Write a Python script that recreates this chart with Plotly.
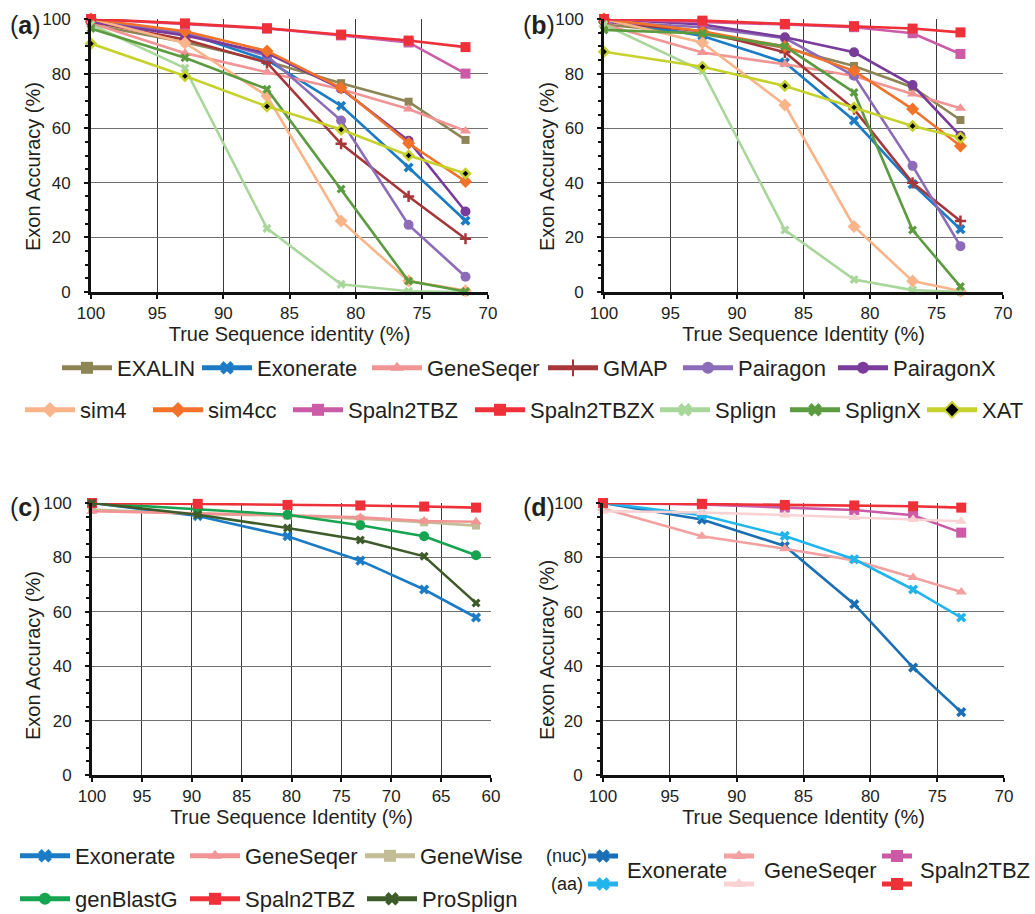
import plotly.graph_objects as go

W, H = 1035, 914
FONT = "Liberation Sans, Arial, Helvetica, sans-serif"
TXT = "#231F20"

# ---------------- data ----------------
x_a = [100, 92.9, 86.7, 81.1, 76.0, 71.7]
x_b = [100, 92.6, 86.4, 81.2, 76.8, 73.2]
x_c = [100, 89.4, 80.4, 73.1, 66.7, 61.5]
x_d = [100, 92.6, 86.4, 81.2, 76.8, 73.2]

names_ab = ["EXALIN", "Exonerate", "GeneSeqer", "GMAP", "Pairagon", "PairagonX",
            "sim4", "sim4cc", "Spaln2TBZ", "Spaln2TBZX", "Splign", "SplignX", "XAT"]

a_EXALIN = [98, 91.5, 84.5, 76.5, 69.7, 55.7]
a_Exonerate = [99.5, 95, 85, 68.2, 45.6, 26.1]
a_GeneSeqer = [98.5, 87.5, 80.5, 74.3, 67, 59]
a_GMAP = [99, 92.5, 84, 54.3, 35, 19.5]
a_Pairagon = [99, 95, 86.5, 62.8, 24.6, 5.6]
a_PairagonX = [99, 94, 87.5, 74.5, 55.4, 29.5]
a_sim4 = [100, 91.2, 71.8, 26, 4, 0.5]
a_sim4cc = [100, 95.5, 88.3, 74.8, 54.5, 40.5]
a_Spaln2TBZ = [100, 98, 96.5, 94, 91.4, 80]
a_Spaln2TBZX = [100, 98.4, 96.6, 94.3, 92.1, 89.7]
a_Splign = [98, 82, 23.3, 2.8, 0.3, 0]
a_SplignX = [96.5, 85.8, 74.3, 37.7, 4, 0.2]
a_XAT = [91, 79.1, 68, 59.5, 50, 43.4]

b_EXALIN = [98, 94.5, 89.5, 82.8, 75, 63]
b_Exonerate = [100, 93.8, 84.1, 62.8, 39.5, 23]
b_GeneSeqer = [98, 87.7, 83.4, 79.1, 72.5, 67.3]
b_GMAP = [99, 95.5, 87.8, 67, 40, 26]
b_Pairagon = [99, 97, 93, 79.2, 46.2, 16.8]
b_PairagonX = [100, 98, 93.3, 87.8, 75.8, 57.2]
b_sim4 = [100, 91.3, 68.5, 24, 4, 0.4]
b_sim4cc = [100, 95.5, 89.9, 81, 67, 53.5]
b_Spaln2TBZ = [100, 99, 98, 97, 94.8, 87.2]
b_Spaln2TBZX = [100, 99.4, 98.2, 97.4, 96.5, 95.1]
b_Splign = [98, 81, 22.7, 4.6, 0.7, 0]
b_SplignX = [96, 94.7, 90, 73.1, 22.7, 2]
b_XAT = [88, 82.5, 75.5, 67.6, 60.8, 56.5]

names_c = ["Exonerate", "GeneSeqer", "GeneWise", "genBlastG", "Spaln2TBZ", "ProSplign"]
c_Exonerate = [100, 95.2, 87.8, 78.8, 68.2, 57.9]
c_GeneSeqer = [97, 96.3, 95.5, 94.7, 93.4, 93.1]
c_GeneWise = [97.6, 96.0, 95.3, 94.2, 92.9, 91.7]
c_genBlastG = [100, 97.7, 95.7, 91.8, 87.8, 80.8]
c_Spaln2TBZ = [100, 99.7, 99.3, 99.1, 98.7, 98.3]
c_ProSplign = [100, 95.7, 90.8, 86.4, 80.4, 63.2]

names_d = ["Exonerate", "GeneSeqer", "Spaln2TBZ"]
d_Exonerate_nuc = [100, 93.9, 84.2, 62.8, 39.5, 23.1]
d_GeneSeqer_nuc = [98, 87.8, 83.2, 78.9, 72.6, 67.3]
d_Spaln2TBZ_nuc = [100, 99.5, 98.3, 97.4, 95.5, 89.1]
d_Exonerate_aa = [100, 95.5, 87.9, 79.3, 68.2, 57.9]
d_GeneSeqer_aa = [97, 96.5, 95.6, 94.7, 93.9, 93.3]
d_Spaln2TBZ_aa = [100, 99.7, 99.3, 99.1, 98.8, 98.3]

xticks_ab = [100, 95, 90, 85, 80, 75, 70]
xticks_c = [100, 95, 90, 85, 80, 75, 70, 65, 60]
yticks = [0, 20, 40, 60, 80, 100]

# ---------------- styles ----------------
style = {
    "EXALIN": ("#8E8556", "square", 8),
    "Exonerate": ("#1B7BC4", "x", 9),
    "GeneSeqer": ("#F29494", "triangle-up", 10),
    "GMAP": ("#A5373A", "cross-thin-open", 8),
    "Pairagon": ("#8C6BB8", "circle", 10),
    "PairagonX": ("#7A3C9A", "circle", 10),
    "sim4": ("#F9B48A", "diamond", 10),
    "sim4cc": ("#F2722A", "diamond", 10),
    "Spaln2TBZ": ("#CB5BA6", "square", 10),
    "Spaln2TBZX": ("#EE3139", "square", 10),
    "Splign": ("#A9D69A", "x", 8),
    "SplignX": ("#5C9B40", "x", 8),
    "XAT": ("#C6D12B", "diamond", 7),
    "GeneWise": ("#C2BD96", "square", 8),
    "genBlastG": ("#17A450", "circle", 10),
    "ProSplign": ("#3E5C2A", "x", 8),
}
d_colors_nuc = {"Exonerate": "#1A6FB5", "GeneSeqer": "#F2A0A0", "Spaln2TBZ": "#CB5BA6"}
d_colors_aa = {"Exonerate": "#22B5EC", "GeneSeqer": "#F9D3D3", "Spaln2TBZ": "#EE3139"}
d_symbols = {"Exonerate": "x", "GeneSeqer": "triangle-up", "Spaln2TBZ": "square"}

# legend placement (pixels: left edge of each entry, row centre)
leg_ab_x = [57, 197, 367, 543, 678, 833, 20, 148, 288, 470, 655, 785, 922]
leg_ab_y = [368] * 6 + [410] * 7
leg_c_x = [15, 185, 360, 15, 185, 362]
leg_c_y = [856] * 3 + [899] * 3
leg_d_x = [583, 719, 877]
leg_d_y = {"nuc": 856, "aa": 884}
lab_d_x = [625, 762, 918]


def marker_for(name, color=None):
    c, s, z = style[name]
    c = color or c
    m = dict(color=c, symbol=s, size=z, line=dict(width=0, color=c))
    if s == "cross-thin-open":
        m["line"] = dict(width=2.5, color=c)
    if name == "XAT":
        m = dict(color="black", symbol="diamond", size=z, line=dict(width=2.5, color=c))
    return m


def leg_id(n):
    return "legend" if n == 1 else "legend%d" % n


def leg(x, y, hidden_text=False, itemwidth=50):
    return dict(orientation="h", xref="paper", yref="paper", x=x / W, y=1 - y / H,
                xanchor="left", yanchor="middle", bgcolor="rgba(0,0,0,0)",
                font=dict(size=1 if hidden_text else 22,
                          color="rgba(0,0,0,0)" if hidden_text else TXT, family=FONT),
                itemwidth=itemwidth, itemsizing="constant", tracegroupgap=0,
                itemclick=False, itemdoubleclick=False)


fig = go.Figure()

dom = {
    "a": ([91 / W, 488 / W], [1 - 292 / H, 1 - 19 / H]),
    "b": ([604 / W, 1003 / W], [1 - 292 / H, 1 - 19 / H]),
    "c": ([92 / W, 491 / W], [1 - 775 / H, 1 - 503 / H]),
    "d": ([603 / W, 1004 / W], [1 - 775 / H, 1 - 503 / H]),
}
axmap = {"a": ("x", "y"), "b": ("x2", "y2"), "c": ("x3", "y3"), "d": ("x4", "y4")}

data_a = [a_EXALIN, a_Exonerate, a_GeneSeqer, a_GMAP, a_Pairagon, a_PairagonX, a_sim4,
          a_sim4cc, a_Spaln2TBZ, a_Spaln2TBZX, a_Splign, a_SplignX, a_XAT]
data_b = [b_EXALIN, b_Exonerate, b_GeneSeqer, b_GMAP, b_Pairagon, b_PairagonX, b_sim4,
          b_sim4cc, b_Spaln2TBZ, b_Spaln2TBZX, b_Splign, b_SplignX, b_XAT]

n_leg = 0
legend_specs = {}

for i, (nm, ya) in enumerate(zip(names_ab, data_a)):
    c = style[nm][0]
    n_leg += 1
    lid = leg_id(n_leg)
    legend_specs[lid] = leg(leg_ab_x[i], leg_ab_y[i])
    fig.add_trace(go.Scatter(
        x=x_a, y=ya, name=nm, mode="lines+markers", xaxis="x", yaxis="y",
        line=dict(color=c, width=2.6), marker=marker_for(nm), cliponaxis=False,
        legend=lid, legendgroup=nm))
for nm, yb in zip(names_ab, data_b):
    c = style[nm][0]
    fig.add_trace(go.Scatter(
        x=x_b, y=yb, name=nm, mode="lines+markers", xaxis="x2", yaxis="y2",
        line=dict(color=c, width=2.6), marker=marker_for(nm), cliponaxis=False,
        showlegend=False, legendgroup=nm))

data_c = [c_Exonerate, c_GeneSeqer, c_GeneWise, c_genBlastG, c_Spaln2TBZ, c_ProSplign]
draw_order_c = [2, 0, 1, 3, 4, 5]
for i in draw_order_c:
    nm, yc = names_c[i], data_c[i]
    c = style[nm][0]
    if nm == "Spaln2TBZ":
        c = "#EE3139"
    lid = leg_id(n_leg + 1 + i)
    legend_specs[lid] = leg(leg_c_x[i], leg_c_y[i])
    fig.add_trace(go.Scatter(
        x=x_c, y=yc, name=nm, mode="lines+markers", xaxis="x3", yaxis="y3",
        line=dict(color=c, width=2.6), marker=marker_for(nm, color=c), cliponaxis=False,
        legend=lid))
n_leg += len(names_c)

data_d = {"nuc": [d_Exonerate_nuc, d_GeneSeqer_nuc, d_Spaln2TBZ_nuc],
          "aa": [d_Exonerate_aa, d_GeneSeqer_aa, d_Spaln2TBZ_aa]}
colors_d = {"nuc": d_colors_nuc, "aa": d_colors_aa}
for kind in ["nuc", "aa"]:
    for j, (nm, yd) in enumerate(zip(names_d, data_d[kind])):
        c = colors_d[kind][nm]
        n_leg += 1
        lid = leg_id(n_leg)
        legend_specs[lid] = leg(leg_d_x[j], leg_d_y[kind], hidden_text=True, itemwidth=30)
        fig.add_trace(go.Scatter(
            x=x_d, y=yd, name="%s (%s)" % (nm, kind), mode="lines+markers",
            xaxis="x4", yaxis="y4", line=dict(color=c, width=2.6),
            marker=dict(color=c, symbol=d_symbols[nm], size=10 if nm != "Exonerate" else 9),
            cliponaxis=False, legend=lid))

# ---------------- axes ----------------
xtitles = {"a": "True Sequence identity (%)", "b": "True Sequence Identity (%)",
           "c": "True Sequence Identity (%)", "d": "True Sequence Identity (%)"}
ytitles = {"a": "Exon Accuracy (%)", "b": "Exon Accuracy (%)",
           "c": "Exon Accuracy (%)", "d": "Eexon Accuracy (%)"}
ytitle_pos = {"a": (33, 167), "b": (547, 167), "c": (33, 656), "d": (547, 650)}

layout_axes = {}
for k, (xd, yd) in dom.items():
    xa, ya = axmap[k]
    xname = "xaxis" if xa == "x" else "xaxis" + xa[1:]
    yname = "yaxis" if ya == "y" else "yaxis" + ya[1:]
    ticks = xticks_c if k == "c" else xticks_ab
    layout_axes[xname] = dict(
        domain=xd, anchor=ya, range=[ticks[0], ticks[-1]],
        tickmode="array", tickvals=ticks, ticktext=[str(t) for t in ticks],
        showgrid=True, gridcolor="#3a3a3a", gridwidth=1,
        showline=True, linecolor="#111", linewidth=3,
        ticks="outside", ticklen=4, tickwidth=1.5, tickcolor="#111",
        tickfont=dict(size=17, color=TXT, family=FONT), zeroline=False,
        ticklabelstandoff=0,
        title=dict(text=xtitles[k], font=dict(size=20, color=TXT, family=FONT), standoff=2),
    )
    layout_axes[yname] = dict(
        domain=yd, anchor=xa, range=[0, 100],
        tickmode="array", tickvals=yticks, ticktext=[str(t) for t in yticks],
        showgrid=True, gridcolor="#6f6f6f", gridwidth=1,
        showline=True, linecolor="#111", linewidth=3,
        ticks="outside", ticklen=4, tickwidth=1.5, tickcolor="#111",
        minor=dict(dtick=5, tick0=0, ticks="outside", ticklen=3, tickwidth=1.5,
                   tickcolor="#111", showgrid=False),
        tickfont=dict(size=17, color=TXT, family=FONT), zeroline=False,
        ticklabelstandoff=10,
    )

annotations = []
for k, (xp, yp) in ytitle_pos.items():
    annotations.append(dict(text=ytitles[k], x=xp / W, y=1 - yp / H, xref="paper",
                            yref="paper", xanchor="center", yanchor="middle",
                            textangle=-90, showarrow=False,
                            font=dict(size=20, color=TXT, family=FONT)))
for lab, (xp, yp) in {"a": (8, 25), "b": (521, 25), "c": (8, 507), "d": (521, 507)}.items():
    annotations.append(dict(text="(<b>%s</b>)" % lab, x=xp / W, y=1 - yp / H, xref="paper",
                            yref="paper", xanchor="left", yanchor="middle", showarrow=False,
                            font=dict(size=25, color=TXT, family=FONT)))
for nm, xp in zip(names_d, lab_d_x):
    annotations.append(dict(text=nm, x=xp / W, y=1 - 870 / H, xref="paper", yref="paper",
                            xanchor="left", yanchor="middle", showarrow=False,
                            font=dict(size=22, color=TXT, family=FONT)))
for txt, xp, kind in [("(nuc)", 544, "nuc"), ("(aa)", 549, "aa")]:
    annotations.append(dict(text=txt, x=xp / W, y=1 - leg_d_y[kind] / H, xref="paper",
                            yref="paper", xanchor="left", yanchor="middle", showarrow=False,
                            font=dict(size=18, color=TXT, family=FONT)))

fig.update_layout(
    width=W, height=H, margin=dict(l=0, r=0, t=0, b=0, autoexpand=False),
    paper_bgcolor="white", plot_bgcolor="white",
    font=dict(family=FONT, color=TXT),
    showlegend=True,
    annotations=annotations,
    **legend_specs,
    **layout_axes,
)

fig.write_html(
    "out.html",
    config={"displayModeBar": False},
    post_script="document.body.style.margin='0px';document.body.style.overflow='hidden';",
)
